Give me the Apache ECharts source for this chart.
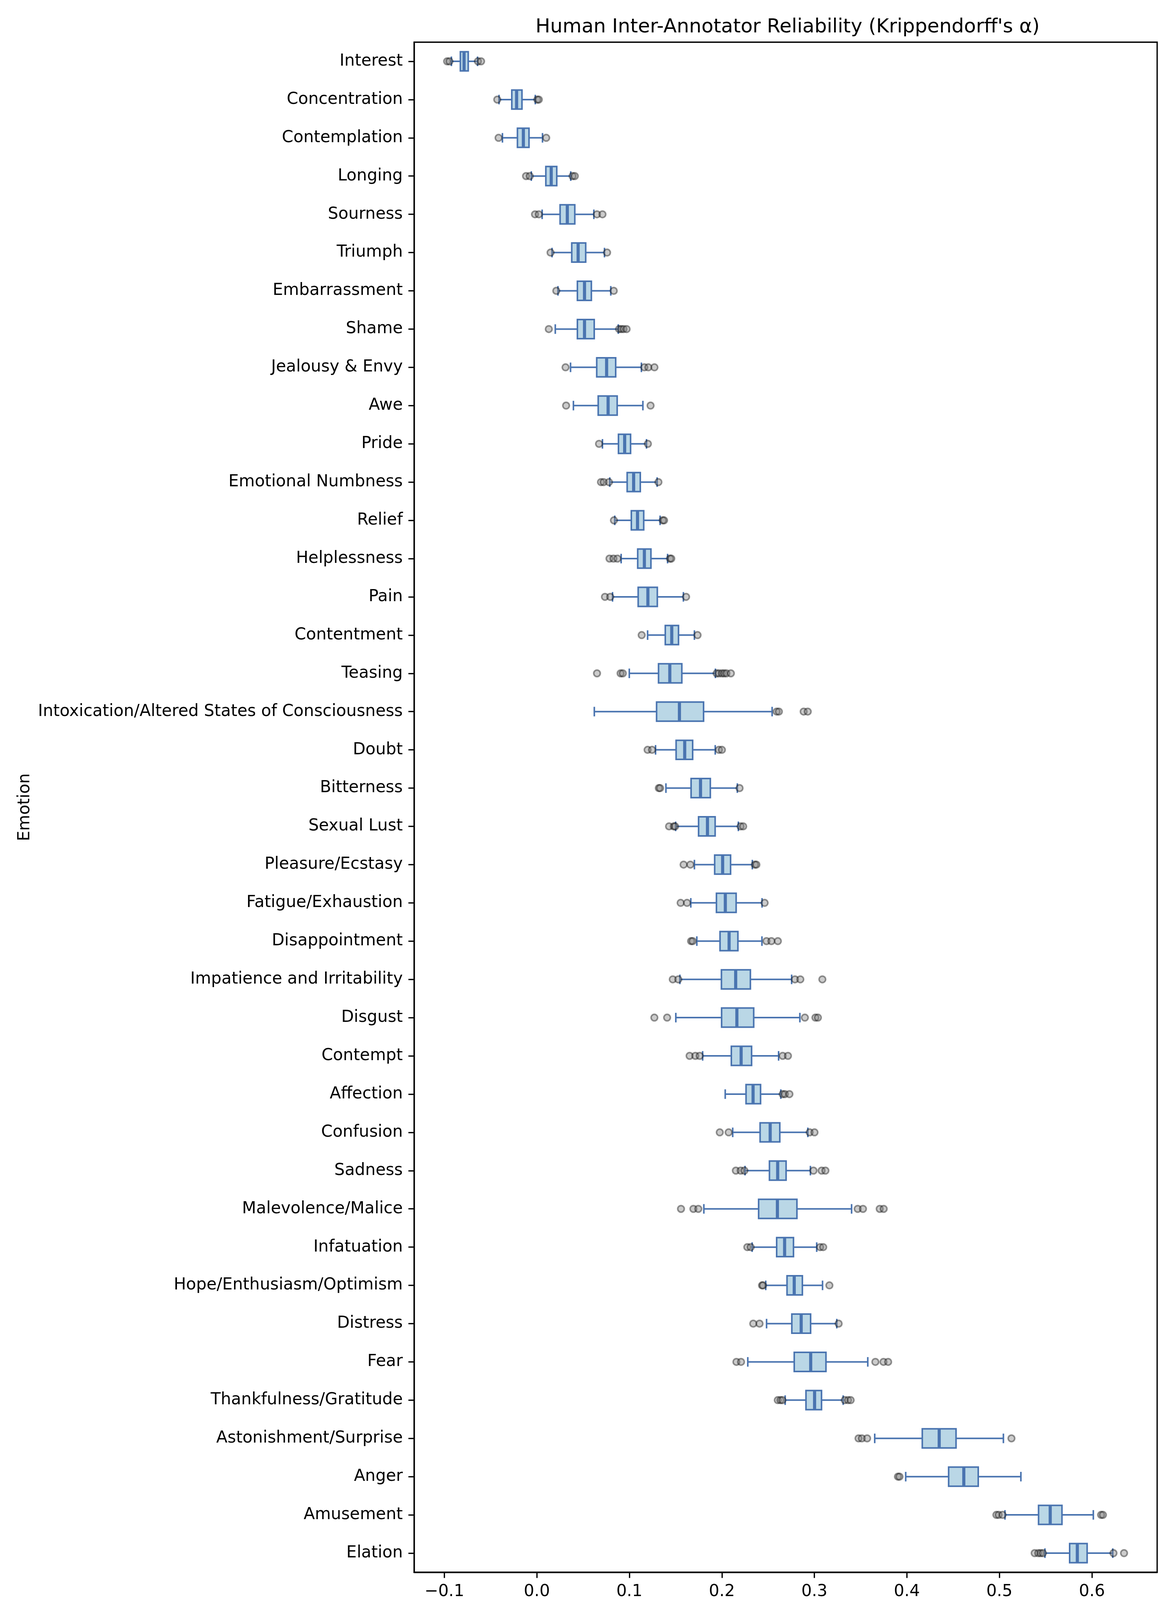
<!DOCTYPE html>
<html>
<head>
<meta charset="utf-8">
<title>Human Inter-Annotator Reliability</title>
<script src="https://cdn.jsdelivr.net/npm/echarts@6/dist/echarts.min.js"></script>
<style>
  html, body { margin: 0; padding: 0; background: #fff; }
  #main { width: 3000px; height: 4200px; }
</style>
</head>
<body>
<div id="main"></div>
<script>
// emotions, top to bottom
var emotions = ['Interest', 'Concentration', 'Contemplation', 'Longing', 'Sourness', 'Triumph',
  'Embarrassment', 'Shame', 'Jealousy & Envy', 'Awe', 'Pride', 'Emotional Numbness', 'Relief',
  'Helplessness', 'Pain', 'Contentment', 'Teasing', 'Intoxication/Altered States of Consciousness',
  'Doubt', 'Bitterness', 'Sexual Lust', 'Pleasure/Ecstasy', 'Fatigue/Exhaustion', 'Disappointment',
  'Impatience and Irritability', 'Disgust', 'Contempt', 'Affection', 'Confusion', 'Sadness',
  'Malevolence/Malice', 'Infatuation', 'Hope/Enthusiasm/Optimism', 'Distress', 'Fear',
  'Thankfulness/Gratitude', 'Astonishment/Surprise', 'Anger', 'Amusement', 'Elation'];

var whiskerLow = [-0.0924, -0.0409, -0.0372, -0.006, 0.0057, 0.0164, 0.0228, 0.0199, 0.0364, 0.0395,
  0.0709, 0.0788, 0.0842, 0.0911, 0.0818, 0.1197, 0.0999, 0.0621, 0.1283, 0.1395,
  0.15, 0.1703, 0.1664, 0.1729, 0.1546, 0.1502, 0.1792, 0.2036, 0.2117, 0.225,
  0.1805, 0.2327, 0.2474, 0.2483, 0.228, 0.2684, 0.3652, 0.3987, 0.506, 0.5492];
var q1 = [-0.0827, -0.0271, -0.021, 0.0097, 0.0251, 0.0377, 0.0438, 0.0438, 0.0647, 0.0663,
  0.0882, 0.0976, 0.1021, 0.109, 0.1095, 0.1388, 0.1315, 0.1294, 0.1505, 0.1667,
  0.1748, 0.1922, 0.1941, 0.198, 0.1995, 0.1997, 0.2102, 0.2261, 0.2413, 0.2514,
  0.2397, 0.2592, 0.2704, 0.2756, 0.2782, 0.2909, 0.4166, 0.4451, 0.5423, 0.5759];
var median = [-0.0787, -0.0219, -0.0146, 0.0155, 0.0329, 0.0446, 0.0515, 0.0515, 0.0754, 0.077,
  0.0949, 0.1046, 0.1088, 0.1162, 0.12, 0.1458, 0.1437, 0.1541, 0.1598, 0.1769,
  0.1844, 0.2008, 0.2037, 0.2078, 0.2149, 0.2162, 0.2208, 0.2337, 0.2522, 0.2603,
  0.26, 0.2678, 0.2782, 0.2857, 0.296, 0.3002, 0.4349, 0.4615, 0.5549, 0.5842];
var q3 = [-0.0742, -0.0161, -0.0085, 0.0215, 0.041, 0.0528, 0.0589, 0.062, 0.0852, 0.0868,
  0.1013, 0.1118, 0.1155, 0.1233, 0.1302, 0.1531, 0.1567, 0.1802, 0.1684, 0.1875,
  0.1927, 0.2094, 0.2154, 0.2173, 0.2308, 0.2344, 0.2321, 0.2418, 0.2626, 0.2694,
  0.2811, 0.2774, 0.287, 0.2959, 0.3125, 0.3077, 0.4531, 0.4771, 0.5676, 0.5948];
var whiskerHigh = [-0.0641, -0.0017, 0.0061, 0.0366, 0.0616, 0.0731, 0.0799, 0.088, 0.113, 0.1146,
  0.1185, 0.13, 0.1332, 0.1413, 0.1584, 0.1703, 0.193, 0.2543, 0.1928, 0.2167,
  0.2178, 0.2329, 0.2434, 0.2433, 0.2754, 0.2843, 0.2613, 0.2637, 0.2929, 0.2957,
  0.3402, 0.3025, 0.3088, 0.3242, 0.3577, 0.3311, 0.5043, 0.5232, 0.6015, 0.6225];
var outliers = [
  [-0.097, -0.0945, -0.0637, -0.0603],
  [-0.0428, 0.0005, 0.0021],
  [-0.0414, 0.0101],
  [-0.0117, -0.0077, 0.0386, 0.041],
  [-0.002, 0.0021, 0.065, 0.0709],
  [0.0148, 0.0759],
  [0.021, 0.0831],
  [0.0129, 0.0889, 0.0913, 0.0937, 0.097],
  [0.031, 0.1162, 0.1205, 0.1271],
  [0.0316, 0.1229],
  [0.0672, 0.12],
  [0.0693, 0.0722, 0.0779, 0.1314],
  [0.0833, 0.1361, 0.1375],
  [0.0785, 0.0828, 0.0871, 0.1439, 0.1453],
  [0.0736, 0.0793, 0.1613],
  [0.1133, 0.1737],
  [0.065, 0.0905, 0.0929, 0.1943, 0.1968, 0.2, 0.2024, 0.2049, 0.2097],
  [0.2592, 0.2616, 0.2884, 0.2928],
  [0.1197, 0.1245, 0.1968, 0.2],
  [0.1318, 0.1332, 0.2191],
  [0.1429, 0.148, 0.1494, 0.2202, 0.223],
  [0.1586, 0.1659, 0.2357, 0.2373],
  [0.1554, 0.1623, 0.2462],
  [0.1667, 0.1684, 0.2482, 0.2535, 0.2605],
  [0.1469, 0.1529, 0.279, 0.2848, 0.3086],
  [0.127, 0.1408, 0.2897, 0.3011, 0.3038],
  [0.1651, 0.1713, 0.176, 0.2657, 0.2714],
  [0.2657, 0.2681, 0.273],
  [0.1977, 0.2073, 0.2949, 0.3001],
  [0.2151, 0.2203, 0.2243, 0.299, 0.3078, 0.3119],
  [0.1558, 0.1692, 0.1745, 0.3468, 0.3525, 0.3706, 0.3749],
  [0.2275, 0.2311, 0.3062, 0.3095],
  [0.2434, 0.2444, 0.3162],
  [0.2339, 0.2407, 0.3262],
  [0.2157, 0.2207, 0.3659, 0.3747, 0.3797],
  [0.2604, 0.2633, 0.2654, 0.3328, 0.3364, 0.3392],
  [0.3477, 0.3513, 0.357, 0.513],
  [0.3903, 0.392],
  [0.4967, 0.4992, 0.5034, 0.6099, 0.6119],
  [0.5381, 0.542, 0.5445, 0.547, 0.6233, 0.6347]
];
var xTicks = [-0.1, 0, 0.1, 0.2, 0.3, 0.4, 0.5, 0.6];

var FONT = 'DejaVu Sans';
var BLUE = '#4a74b0';
var FILL = '#bad7e6';

var boxData = [];
for (var i = 0; i < emotions.length; i++) {
  boxData.push([i, whiskerLow[i], q1[i], median[i], q3[i], whiskerHigh[i]]);
}
var flierData = [];
for (var j = 0; j < outliers.length; j++) {
  for (var k = 0; k < outliers[j].length; k++) {
    flierData.push([outliers[j][k], j]);
  }
}

function renderBox(params, api) {
  var idx = api.value(0);
  var y = api.coord([0, idx])[1];
  var band = api.size([0, 1])[1];
  var half = band * 0.25, capHalf = band * 0.125;
  var xl = api.coord([api.value(1), idx])[0];
  var x1 = api.coord([api.value(2), idx])[0];
  var xm = api.coord([api.value(3), idx])[0];
  var x3 = api.coord([api.value(4), idx])[0];
  var xh = api.coord([api.value(5), idx])[0];
  var ls = { stroke: BLUE, lineWidth: 4 };
  return {
    type: 'group',
    children: [
      { type: 'rect', shape: { x: x1, y: y - half, width: x3 - x1, height: half * 2 },
        style: { fill: FILL, stroke: BLUE, lineWidth: 4 } },
      { type: 'line', shape: { x1: xl, y1: y, x2: x1, y2: y }, style: ls },
      { type: 'line', shape: { x1: x3, y1: y, x2: xh, y2: y }, style: ls },
      { type: 'line', shape: { x1: xl, y1: y - capHalf, x2: xl, y2: y + capHalf }, style: ls },
      { type: 'line', shape: { x1: xh, y1: y - capHalf, x2: xh, y2: y + capHalf }, style: ls },
      { type: 'line', shape: { x1: xm, y1: y - half, x2: xm, y2: y + half },
        style: { stroke: BLUE, lineWidth: 8 } }
    ]
  };
}

var chart = echarts.init(document.getElementById('main'), null, { renderer: 'canvas', devicePixelRatio: 1 });
chart.setOption({
  animation: false,
  backgroundColor: '#ffffff',
  title: {
    text: "Human Inter-Annotator Reliability (Krippendorff's \u03b1)",
    left: 2011, top: 40, textAlign: 'center',
    textStyle: { fontFamily: FONT, fontSize: 50, fontWeight: 'normal', color: '#000' }
  },
  grid: { left: 1060, right: 38, top: 108, bottom: 175, show: true, borderColor: '#000', borderWidth: 3.3 },
  xAxis: {
    type: 'value', min: -0.1327, max: 0.6705,
    name: "Krippendorff's \u03b1 (interval)", nameLocation: 'middle', nameGap: 80,
    nameTextStyle: { fontFamily: FONT, fontSize: 42, color: '#000', verticalAlign: 'top' },
    axisLine: { show: true, onZero: false, lineStyle: { color: '#000', width: 3.3 } },
    axisTick: { show: true, length: 14.6, lineStyle: { color: '#000', width: 3.3 }, customValues: xTicks },
    axisLabel: {
      fontFamily: FONT, fontSize: 42, color: '#000', margin: 29, customValues: xTicks,
      formatter: function (v) { return (v < 0 ? '\u2212' : '') + Math.abs(v).toFixed(1); }
    },
    splitLine: { show: false }
  },
  yAxis: {
    type: 'category', data: emotions, inverse: true,
    name: 'Emotion', nameLocation: 'middle', nameGap: 975, nameRotate: 90,
    nameTextStyle: { fontFamily: FONT, fontSize: 42, color: '#000' },
    axisLine: { show: true, onZero: false, lineStyle: { color: '#000', width: 3.3 } },
    axisTick: { show: true, alignWithLabel: true, length: 14.6, lineStyle: { color: '#000', width: 3.3 } },
    axisLabel: { fontFamily: FONT, fontSize: 42, color: '#000', margin: 29, interval: 0 },
    splitLine: { show: false }
  },
  series: [
    {
      type: 'custom', renderItem: renderBox, data: boxData,
      encode: { x: [1, 2, 3, 4, 5], y: 0 }, z: 2
    },
    {
      type: 'scatter', data: flierData, symbol: 'circle', symbolSize: 17, z: 3,
      itemStyle: { color: 'rgba(128,128,128,0.4)', borderColor: 'rgba(0,0,0,0.4)', borderWidth: 4, opacity: 1 }
    }
  ]
});
</script>
</body>
</html>
